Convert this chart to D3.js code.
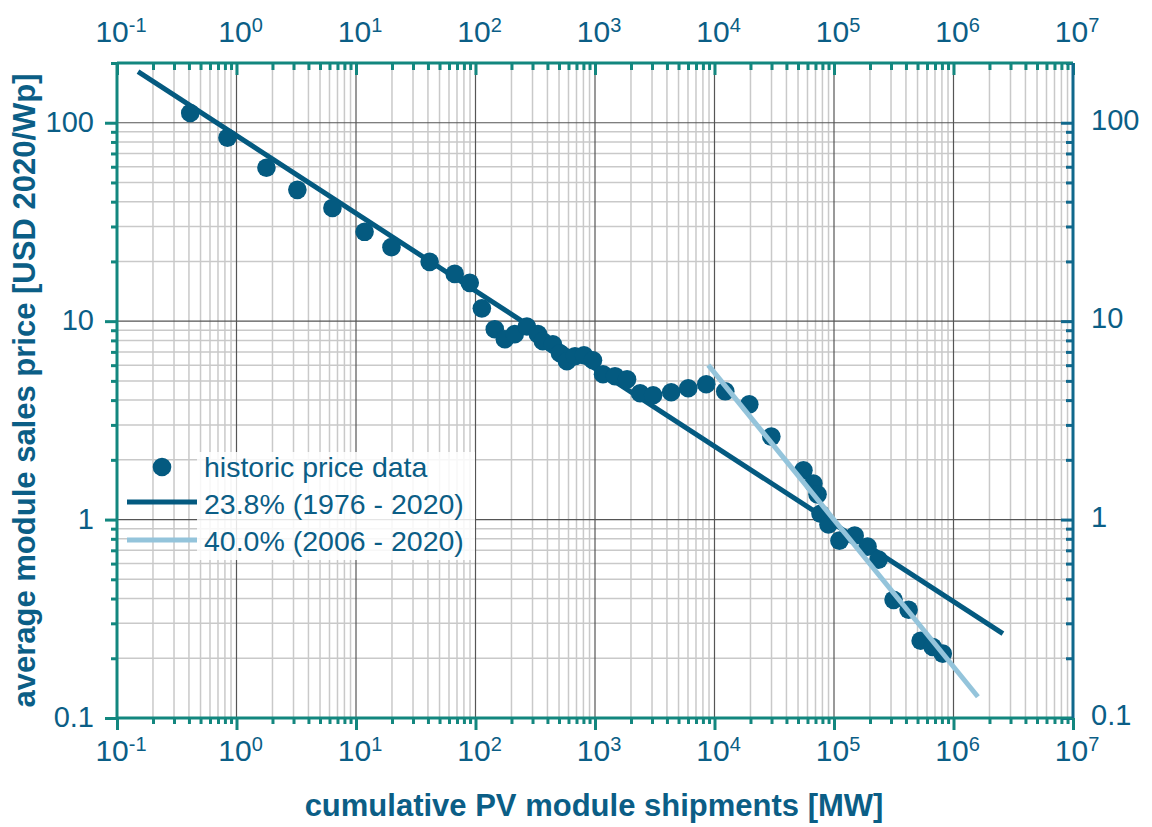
<!DOCTYPE html>
<html>
<head>
<meta charset="utf-8">
<script src="https://cdn.jsdelivr.net/npm/d3@7"></script>
<style>
  body { margin: 0; background: #fff; }
  text { font-family: "Liberation Sans", Arial, sans-serif; }
</style>
</head>
<body>
<div id="chart"></div>
<script>
// cumulative shipments [MW] and price [USD 2020/Wp]
const shipments = [0.41, 0.84, 1.78, 3.23, 6.35, 11.8, 19.8, 41.3, 67, 89.5, 113, 145, 176, 213, 269, 333, 366, 444, 509, 582, 680, 809, 962, 1167, 1471, 1855, 2385, 3065, 4340, 6030, 8530, 12300, 19550, 29900, 55500, 67300, 72800, 77100, 89900, 111000, 149000, 191000, 236000, 315000, 421000, 531000, 670000, 813000];
const prices = [112, 84, 59.3, 45.9, 37.2, 28.2, 23.6, 19.9, 17.3, 15.6, 11.6, 9.11, 8.11, 8.6, 9.4, 8.6, 7.92, 7.65, 6.89, 6.28, 6.66, 6.73, 6.35, 5.4, 5.28, 5.09, 4.33, 4.23, 4.38, 4.59, 4.81, 4.43, 3.81, 2.62, 1.77, 1.52, 1.34, 1.07, 0.944, 0.783, 0.83, 0.731, 0.628, 0.394, 0.351, 0.245, 0.228, 0.211];

// learning-rate fit lines (end points)
const fitLongX = [0.15, 2.59e6];
const fitLongY = [181, 0.266];
const fitShortX = [8870, 1.6e6];
const fitShortY = [6.0, 0.128];

const legendLabels = ["historic price data", "23.8% (1976 - 2020)", "40.0% (2006 - 2020)"];
const xMajor = [1e-1, 1e0, 1e1, 1e2, 1e3, 1e4, 1e5, 1e6, 1e7];
const xExp = ["-1", "0", "1", "2", "3", "4", "5", "6", "7"];
const yMajor = [0.1, 1, 10, 100];
const yLabels = ["0.1", "1", "10", "100"];

const W = 1152, H = 827;
const margin = { top: 63, right: 79, bottom: 109, left: 117 };
const width = W - margin.left - margin.right,
  height = H - margin.top - margin.bottom;

const dark = "#045a80", light = "#94c4db", textCol = "#0b5e86";
const teal = "#13877f", blue = "#10688c";

const svg = d3.select("#chart").append("svg")
  .attr("width", W).attr("height", H);

const g = svg.append("g")
  .attr("transform", `translate(${margin.left},${margin.top})`);

const x = d3.scaleLog().domain([0.1, 1e7]).range([0, width]);
const y = d3.scaleLog().domain([0.1, 200]).range([height, 0]);

const isMajor = v => Math.abs(Math.log10(v) - Math.round(Math.log10(v))) < 1e-6;
const xTicks = x.ticks();
const yTicks = y.ticks();

// grid
g.append("g").selectAll("line").data(xTicks.filter(v => !isMajor(v))).join("line")
  .attr("x1", d => x(d)).attr("x2", d => x(d)).attr("y1", 0).attr("y2", height)
  .attr("stroke", "#c9c9c9").attr("stroke-width", 1.5);
g.append("g").selectAll("line").data(yTicks.filter(v => !isMajor(v))).join("line")
  .attr("y1", d => y(d)).attr("y2", d => y(d)).attr("x1", 0).attr("x2", width)
  .attr("stroke", "#c9c9c9").attr("stroke-width", 1.5);
g.append("g").selectAll("line").data(xTicks.filter(isMajor)).join("line")
  .attr("x1", d => x(d)).attr("x2", d => x(d)).attr("y1", 0).attr("y2", height)
  .attr("stroke", "#555").attr("stroke-width", 1.2);
g.append("g").selectAll("line").data(yTicks.filter(isMajor)).join("line")
  .attr("y1", d => y(d)).attr("y2", d => y(d)).attr("x1", 0).attr("x2", width)
  .attr("stroke", "#555").attr("stroke-width", 1.2);

// axis ticks (minor + major), no domain path
function ticks(axisFn, vals, size, color, tr) {
  const a = g.append("g").attr("transform", tr)
    .call(axisFn(vals === "x" ? x : y)
      .tickValues((vals === "x" ? xTicks : yTicks).filter(v => size > 9 ? isMajor(v) : !isMajor(v)))
      .tickSize(size).tickFormat(""));
  a.select(".domain").remove();
  a.selectAll("line").attr("stroke", color).attr("stroke-width", 3);
}
ticks(d3.axisBottom, "x", 6, teal, `translate(0,${height})`);
ticks(d3.axisBottom, "x", 12, teal, `translate(0,${height})`);
ticks(d3.axisBottom, "x", 7, teal, "translate(0,0)");
ticks(d3.axisBottom, "x", 12, teal, "translate(0,0)");
ticks(d3.axisLeft, "y", 6, teal, "translate(0,0)");
ticks(d3.axisLeft, "y", 12, teal, "translate(0,0)");
ticks(d3.axisLeft, "y", 7, blue, `translate(${width},0)`);
ticks(d3.axisLeft, "y", 12, blue, `translate(${width},0)`);

// frame
g.append("line").attr("x1", 0).attr("x2", width).attr("y1", 0).attr("y2", 0)
  .attr("stroke", teal).attr("stroke-width", 3);
g.append("line").attr("x1", 0).attr("x2", width).attr("y1", height).attr("y2", height)
  .attr("stroke", teal).attr("stroke-width", 3);
g.append("line").attr("x1", 0).attr("x2", 0).attr("y1", 0).attr("y2", height)
  .attr("stroke", teal).attr("stroke-width", 3);
g.append("line").attr("x1", width).attr("x2", width).attr("y1", 0).attr("y2", height)
  .attr("stroke", blue).attr("stroke-width", 3);

// x tick labels, top and bottom
[-21, height + 43].forEach(yy => {
  const t = g.append("g").selectAll("text").data(xMajor).join("text")
    .attr("x", d => x(d) + 4).attr("y", yy)
    .attr("text-anchor", "middle")
    .attr("fill", textCol).style("font-size", "30px");
  t.append("tspan").text("10");
  t.append("tspan").attr("dy", -10).style("font-size", "20px").text((d, i) => xExp[i]);
});

// y tick labels, left and right
g.append("g").selectAll("text").data(yMajor).join("text")
  .attr("x", -23).attr("y", d => y(d) + 9)
  .attr("text-anchor", "end").attr("fill", textCol).style("font-size", "29px")
  .text((d, i) => yLabels[i]);
g.append("g").selectAll("text").data(yMajor).join("text")
  .attr("x", width + 18).attr("y", d => y(d) + 7)
  .attr("text-anchor", "start").attr("fill", textCol).style("font-size", "29px")
  .text((d, i) => yLabels[i]);

// fit lines
const line = d3.line().x(d => x(d[0])).y(d => y(d[1]));
g.append("path").datum(d3.zip(fitLongX, fitLongY)).attr("d", line)
  .attr("stroke", dark).attr("stroke-width", 5).attr("fill", "none");

// data points
g.append("g").selectAll("circle").data(d3.zip(shipments, prices)).join("circle")
  .attr("cx", d => x(d[0])).attr("cy", d => y(d[1])).attr("r", 9.3)
  .attr("fill", dark);

g.append("path").datum(d3.zip(fitShortX, fitShortY)).attr("d", line)
  .attr("stroke", light).attr("stroke-width", 5).attr("fill", "none");

// legend
const leg = g.append("g");
leg.append("rect").attr("x", 80).attr("y", 389).attr("width", 278).attr("height", 108)
  .attr("fill", "#fff").attr("opacity", 0.85);
leg.append("circle").attr("cx", 45).attr("cy", 404).attr("r", 9.3).attr("fill", dark);
leg.append("line").attr("x1", 10).attr("x2", 80).attr("y1", 439).attr("y2", 439)
  .attr("stroke", dark).attr("stroke-width", 5);
leg.append("line").attr("x1", 10).attr("x2", 80).attr("y1", 477).attr("y2", 477)
  .attr("stroke", light).attr("stroke-width", 5);
leg.selectAll("text.leg").data(legendLabels).join("text")
  .attr("x", 87).attr("y", (d, i) => 414 + i * 37)
  .attr("fill", textCol).style("font-size", "28.5px")
  .text(d => d);

// axis titles
svg.append("text")
  .attr("x", margin.left + width / 2 - 1).attr("y", 816)
  .attr("text-anchor", "middle").attr("fill", textCol)
  .style("font-size", "31px").style("font-weight", "bold")
  .text("cumulative PV module shipments [MW]");
svg.append("text")
  .attr("transform", `translate(35,${margin.top + height / 2}) rotate(-90)`)
  .attr("text-anchor", "middle").attr("fill", textCol)
  .style("font-size", "31px").style("font-weight", "bold")
  .text("average module sales price [USD 2020/Wp]");
</script>
</body>
</html>
